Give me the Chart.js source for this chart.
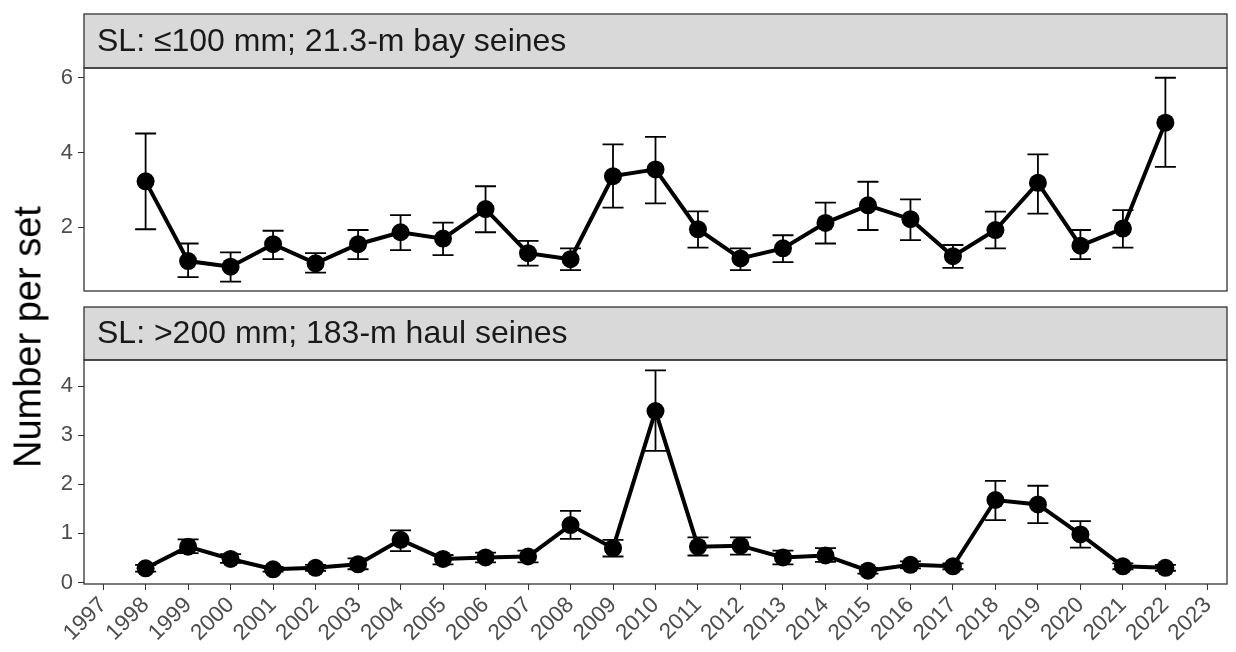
<!DOCTYPE html>
<html>
<head>
<meta charset="utf-8">
<script src="https://cdn.jsdelivr.net/npm/chart.js@4.4.0/dist/chart.umd.min.js"></script>
<style>
  body { margin: 0; background: #fff; }
  #wrap { position: relative; width: 1236px; height: 652px; }
  canvas { position: absolute; left: 0; }
  #ytitle {
    position: absolute; left: 28px; top: 337px;
    transform: translate(-50%, -50%) rotate(-90deg);
    font: 38px "Liberation Sans", Arial, sans-serif; color: #000; white-space: nowrap;
  }
</style>
</head>
<body>
<div id="wrap">
  <canvas id="topChart" width="1236" height="300" style="top:0"></canvas>
  <canvas id="bottomChart" width="1236" height="352" style="top:300px"></canvas>
  <div id="ytitle">Number per set</div>
</div>
<script>
// survey years
const years = [1998, 1999, 2000, 2001, 2002, 2003, 2004, 2005, 2006, 2007, 2008, 2009, 2010,
  2011, 2012, 2013, 2014, 2015, 2016, 2017, 2018, 2019, 2020, 2021, 2022];
const yearTicks = [1997, 1998, 1999, 2000, 2001, 2002, 2003, 2004, 2005, 2006, 2007, 2008, 2009,
  2010, 2011, 2012, 2013, 2014, 2015, 2016, 2017, 2018, 2019, 2020, 2021, 2022, 2023];

// SL <=100 mm, 21.3-m bay seines
const bayMean = [3.23, 1.10, 0.95, 1.55, 1.04, 1.55, 1.87, 1.70, 2.49, 1.31, 1.15, 3.37, 3.55,
  1.95, 1.17, 1.44, 2.12, 2.59, 2.22, 1.23, 1.93, 3.19, 1.51, 1.97, 4.80];
const bayLow = [1.95, 0.67, 0.55, 1.15, 0.79, 1.15, 1.39, 1.26, 1.87, 0.98, 0.86, 2.53, 2.64,
  1.46, 0.86, 1.07, 1.57, 1.93, 1.66, 0.92, 1.44, 2.37, 1.15, 1.46, 3.62];
const bayHigh = [4.51, 1.57, 1.33, 1.91, 1.31, 1.93, 2.33, 2.13, 3.10, 1.64, 1.44, 4.22, 4.42,
  2.43, 1.44, 1.79, 2.66, 3.22, 2.75, 1.53, 2.42, 3.95, 1.93, 2.46, 6.00];
const bayTicks = [2, 4, 6];

// SL >200 mm, 183-m haul seines
const haulMean = [0.29, 0.73, 0.48, 0.27, 0.30, 0.37, 0.87, 0.48, 0.51, 0.53, 1.17, 0.70, 3.49,
  0.73, 0.75, 0.51, 0.55, 0.24, 0.36, 0.33, 1.68, 1.59, 0.98, 0.33, 0.30];
const haulLow = [0.22, 0.60, 0.40, 0.22, 0.24, 0.27, 0.64, 0.37, 0.41, 0.41, 0.89, 0.53, 2.68,
  0.55, 0.57, 0.37, 0.42, 0.18, 0.29, 0.27, 1.27, 1.21, 0.71, 0.27, 0.24];
const haulHigh = [0.36, 0.88, 0.58, 0.32, 0.36, 0.49, 1.06, 0.56, 0.61, 0.65, 1.46, 0.87, 4.32,
  0.92, 0.92, 0.65, 0.70, 0.30, 0.43, 0.39, 2.07, 1.97, 1.25, 0.39, 0.36];
const haulTicks = [0, 1, 2, 3, 4];

const FONT = '"Liberation Sans", Arial, sans-serif';

// error bars behind the line
const errorBars = {
  id: 'errorBars',
  beforeDatasetsDraw(chart, args, opts) {
    const { ctx, scales: { x, y } } = chart;
    ctx.save();
    ctx.strokeStyle = '#000';
    ctx.lineWidth = 1.8;
    opts.low.forEach((lo, i) => {
      const px = x.getPixelForValue(years[i]);
      const top = y.getPixelForValue(opts.high[i]);
      const bot = y.getPixelForValue(lo);
      ctx.beginPath();
      ctx.moveTo(px, top); ctx.lineTo(px, bot);
      ctx.moveTo(px - 10.5, top); ctx.lineTo(px + 10.5, top);
      ctx.moveTo(px - 10.5, bot); ctx.lineTo(px + 10.5, bot);
      ctx.stroke();
    });
    ctx.restore();
  }
};

// grey facet strip + panel border
const panelFrame = {
  id: 'panelFrame',
  afterDraw(chart, args, opts) {
    const { ctx, chartArea: a } = chart;
    const w = a.right - a.left;
    ctx.save();
    ctx.fillStyle = '#d9d9d9';
    ctx.fillRect(a.left, opts.stripTop, w, a.top - opts.stripTop);
    ctx.strokeStyle = '#333';
    ctx.lineWidth = 1.3;
    ctx.strokeRect(a.left, opts.stripTop, w, a.top - opts.stripTop);
    ctx.strokeRect(a.left, a.top, w, a.bottom - a.top);
    ctx.fillStyle = '#1a1a1a';
    ctx.font = '32px ' + FONT;
    ctx.textBaseline = 'middle';
    ctx.fillText(opts.text, a.left + 13, (opts.stripTop + a.top) / 2 + 1);
    ctx.restore();
  }
};

function makePanel(id, mean, low, high, yMin, yMax, yTicks, label, stripTop, pad, showX) {
  return new Chart(document.getElementById(id), {
    type: 'line',
    data: {
      datasets: [{
        data: years.map((yr, i) => ({ x: yr, y: mean[i] })),
        borderColor: '#000',
        backgroundColor: '#000',
        borderWidth: 4,
        pointRadius: 9,
        pointHoverRadius: 9,
        pointBorderWidth: 0,
        tension: 0
      }]
    },
    options: {
      responsive: false,
      animation: false,
      layout: { padding: pad },
      plugins: {
        legend: { display: false },
        tooltip: { enabled: false },
        errorBars: { low, high },
        panelFrame: { text: label, stripTop }
      },
      scales: {
        x: {
          type: 'linear',
          display: showX,
          min: 1996.55,
          max: 2023.45,
          afterBuildTicks: s => { s.ticks = yearTicks.map(v => ({ value: v })); },
          afterFit: s => { if (showX) s.height = 68; },
          grid: { drawOnChartArea: false, drawTicks: true, tickLength: 6, color: '#333' },
          border: { display: false },
          ticks: {
            autoSkip: false, maxRotation: 45, minRotation: 45, padding: 2,
            color: '#4d4d4d', font: { family: FONT, size: 22.5 },
            callback: v => String(v)
          }
        },
        y: {
          min: yMin,
          max: yMax,
          afterBuildTicks: s => { s.ticks = yTicks.map(v => ({ value: v })); },
          afterFit: s => { s.width = 84; s.paddingTop = 0; s.paddingBottom = 0; },
          grid: { drawOnChartArea: false, drawTicks: true, tickLength: 6, color: '#333' },
          border: { display: false },
          ticks: { padding: 5, color: '#4d4d4d', font: { family: FONT, size: 22 } }
        }
      }
    },
    plugins: [errorBars, panelFrame]
  });
}

makePanel('topChart', bayMean, bayLow, bayHigh, 0.30, 6.26, bayTicks,
  'SL: \u2264100 mm; 21.3-m bay seines', 14, { top: 68, right: 4, bottom: 9, left: 0 }, false);
makePanel('bottomChart', haulMean, haulLow, haulHigh, -0.03, 4.53, haulTicks,
  'SL: >200 mm; 183-m haul seines', 7, { top: 60, right: 4, bottom: 0, left: 0 }, true);
</script>
</body>
</html>
